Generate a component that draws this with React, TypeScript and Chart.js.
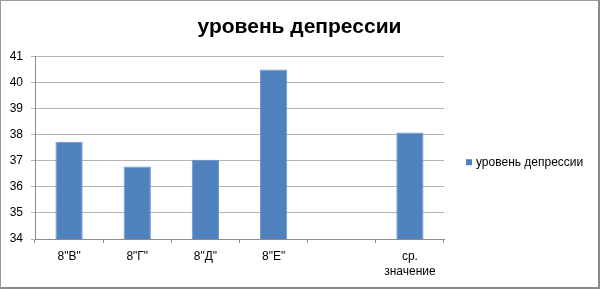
import React, { useEffect, useRef } from "react";
import { Chart, registerables } from "chart.js";

Chart.register(...registerables);

const chartTitle = "уровень депрессии";
const seriesLabel = "уровень депрессии";
const categories: (string | string[])[] = ['8"В"', '8"Г"', '8"Д"', '8"Е"', "", ["ср.", "значение"]];
const values: (number | null)[] = [37.72, 36.78, 37.03, 40.49, null, 38.08];
const yMin = 34;
const yMax = 41;
const yStep = 1;

const barColor = "#4f81bd";
const barEdge = "#6b96cc";
const FONT = "'Liberation Sans', Arial, sans-serif";

const sideLegend = {
  id: "sideLegend",
  afterDraw(chart: any) {
    const { ctx, chartArea } = chart;
    const ds = chart.data.datasets[0];
    ctx.save();
    const x = chartArea.right + 22;
    const y = chartArea.top + 106;
    ctx.fillStyle = ds.backgroundColor;
    ctx.fillRect(x, y - 3, 6, 6);
    ctx.fillStyle = "#000";
    ctx.font = `12px ${FONT}`;
    ctx.textBaseline = "middle";
    ctx.textAlign = "left";
    ctx.fillText(ds.label, x + 10, y + 0.5);
    ctx.restore();
  },
};

export default function App() {
  const ref = useRef<HTMLCanvasElement | null>(null);

  useEffect(() => {
    document.body.style.margin = "0";
    if (!ref.current) return;
    const chart = new Chart(ref.current, {
      type: "bar",
      data: {
        labels: categories,
        datasets: [
          {
            label: seriesLabel,
            data: values,
            backgroundColor: barColor,
            borderColor: barEdge,
            borderWidth: 1,
            categoryPercentage: 1,
            barPercentage: 0.4,
          },
        ],
      },
      options: {
        responsive: false,
        animation: false,
        devicePixelRatio: 1,
        layout: { padding: 0 },
        plugins: {
          legend: { display: false },
          tooltip: { enabled: false },
          title: {
            display: true,
            text: chartTitle,
            color: "#000",
            font: { family: FONT, size: 21, weight: "bold" },
            padding: { top: 14, bottom: 16 },
          },
        },
        scales: {
          x: {
            grid: {
              display: true,
              drawOnChartArea: false,
              drawTicks: true,
              tickLength: 4,
              color: "#8c8c8c",
              offset: true,
            },
            border: { display: true, color: "#8c8c8c" },
            ticks: {
              color: "#000",
              font: { family: FONT, size: 12, lineHeight: 1.25 },
              padding: 6,
              maxRotation: 0,
              autoSkip: false,
            },
            afterFit: (s: any) => {
              s.height = 48;
            },
          },
          y: {
            min: yMin,
            max: yMax,
            ticks: {
              stepSize: yStep,
              color: "#000",
              font: { family: FONT, size: 12 },
              padding: 8,
            },
            grid: { color: "#b4b4b4", tickLength: 4, drawTicks: true },
            border: { display: true, color: "#8c8c8c" },
            afterFit: (s: any) => {
              s.width = 34;
            },
          },
          legendSpace: {
            type: "linear",
            position: "right",
            display: true,
            ticks: { display: false },
            grid: { display: false, drawOnChartArea: false, drawTicks: false },
            border: { display: false },
            afterFit: (s: any) => {
              s.width = 154;
            },
          },
        },
      },
      plugins: [sideLegend],
    });
    return () => chart.destroy();
  }, []);

  return (
    <div
      style={{
        position: "absolute",
        left: 0,
        top: 0,
        width: 600,
        height: 289,
        boxSizing: "border-box",
        borderTop: "1px solid #9a9a9a",
        borderLeft: "1px solid #9a9a9a",
        borderRight: "2px solid #8a8a8a",
        borderBottom: "2px solid #8a8a8a",
        background: "#fff",
      }}
    >
      <canvas ref={ref} width={597} height={286} style={{ display: "block" }} />
    </div>
  );
}
